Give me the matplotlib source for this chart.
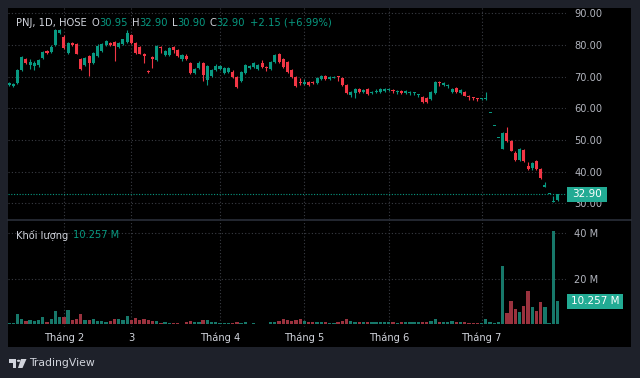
"""
PNJ daily candles with volume, TradingView dark style.
"""

import matplotlib
matplotlib.use("Agg")
import matplotlib.pyplot as plt
import matplotlib.transforms as mtrans
from matplotlib.patches import Rectangle, Circle, Polygon

# ============================================================
# Data
# ============================================================
opens = [67.4, 67.1, 68.0, 72.1, 75.6, 73.7, 73.3, 73.7, 75.8, 78.2,
         77.9, 80.0, 83.8, 82.6, 77.4, 80.6, 80.3, 75.6, 73.7, 76.6,
         74.4, 76.5, 78.0, 80.0, 80.7, 81.0, 79.4, 80.3, 81.0, 83.2,
         80.6, 79.4, 77.0, 71.8, 76.2, 75.3, 79.4, 76.8, 76.8, 79.4,
         78.4, 75.6, 76.5, 74.3, 71.2, 72.7, 74.4, 68.8, 70.3, 72.2,
         72.4, 71.1, 71.6, 71.6, 70.0, 68.7, 71.3, 72.6, 73.0, 72.4,
         74.2, 73.2, 72.4, 74.5, 77.1, 75.5, 74.5, 72.1, 69.9, 68.3,
         67.7, 68.3, 68.2, 68.0, 69.3, 70.2, 69.3, 69.7, 70.0, 69.6,
         67.4, 64.2, 64.9, 66.1, 65.2, 66.1, 64.9, 65.3, 65.2, 65.5,
         65.7, 65.7, 65.3, 65.5, 65.0, 65.0, 64.7, 64.1, 63.6, 63.3,
         63.0, 64.9, 68.3, 67.4, 67.1, 65.2, 66.4, 64.9, 65.2, 63.8,
         63.5, 63.2, 62.9, 63.0, 58.6, 54.5, 50.7, 47.2, 52.2, 49.7,
         46.0, 43.7, 47.0, 41.8, 41.2, 43.4, 40.9, 35.35, 32.9, 30.6,
         30.95]
highs = [68.3, 68.0, 72.5, 76.5, 75.9, 75.5, 74.9, 75.6, 78.2, 78.5,
         80.0, 84.9, 85.0, 83.0, 80.8, 80.8, 80.6, 75.9, 76.2, 76.9,
         77.7, 80.2, 80.6, 81.6, 81.0, 81.3, 81.0, 82.0, 84.7, 83.5,
         81.0, 79.7, 77.5, 72.0, 76.5, 80.0, 79.7, 78.4, 79.4, 79.8,
         78.7, 77.2, 77.0, 74.6, 72.7, 74.9, 74.7, 73.7, 72.4, 74.0,
         73.7, 73.0, 73.0, 72.0, 70.3, 71.9, 74.0, 73.6, 74.5, 74.0,
         75.3, 73.4, 75.0, 77.1, 77.4, 75.8, 74.8, 72.4, 70.2, 69.6,
         69.3, 68.5, 68.5, 69.9, 70.5, 70.5, 70.2, 70.3, 70.2, 69.9,
         67.7, 65.5, 66.4, 66.4, 66.1, 66.4, 65.5, 66.1, 66.4, 66.4,
         66.3, 66.1, 65.8, 65.8, 65.8, 65.5, 65.2, 64.6, 63.9, 63.6,
         65.5, 68.6, 68.5, 68.3, 67.7, 66.4, 66.7, 66.1, 65.5, 64.2,
         63.6, 63.3, 63.3, 65.2, 58.6, 54.5, 50.7, 52.4, 54.1, 49.9,
         46.7, 47.5, 47.2, 43.0, 43.1, 43.6, 41.3, 36.9, 32.9, 32.2,
         32.90]
lows = [67.0, 66.8, 67.7, 71.8, 74.0, 72.5, 72.0, 73.2, 75.5, 77.3,
        77.6, 79.8, 83.5, 78.8, 77.0, 79.8, 77.0, 72.1, 73.3, 70.2,
        74.0, 76.2, 77.7, 79.8, 79.8, 75.0, 79.0, 80.0, 80.7, 80.2,
        77.2, 77.0, 74.3, 71.2, 72.7, 74.8, 77.5, 76.5, 76.4, 77.5,
        76.2, 75.0, 75.2, 70.9, 70.9, 72.4, 68.6, 67.4, 70.0, 71.8,
        72.1, 70.8, 71.3, 69.5, 66.4, 68.4, 71.0, 72.3, 72.7, 72.1,
        72.7, 71.8, 72.1, 74.2, 74.2, 72.8, 71.2, 69.6, 66.8, 67.5,
        67.4, 67.2, 67.6, 67.7, 69.0, 69.0, 68.8, 69.5, 68.6, 67.1,
        64.6, 63.6, 63.3, 65.0, 65.0, 64.2, 64.6, 65.0, 65.0, 65.3,
        65.4, 65.0, 64.6, 64.6, 64.4, 64.2, 64.2, 63.6, 61.8, 61.8,
        62.7, 64.6, 67.1, 67.2, 66.4, 65.0, 65.0, 64.6, 63.8, 62.7,
        62.7, 62.4, 62.7, 62.8, 58.6, 54.5, 50.7, 47.15, 49.5, 46.4,
        43.5, 43.5, 43.2, 40.5, 40.5, 40.6, 37.8, 35.35, 32.9, 30.6,
        30.90]
closes = [68.0, 67.7, 72.1, 76.2, 74.3, 74.7, 74.4, 75.3, 77.8, 77.6,
          79.4, 84.7, 84.7, 79.0, 80.5, 80.0, 77.2, 72.4, 75.9, 74.4,
          77.4, 79.7, 80.3, 81.3, 80.1, 79.7, 80.7, 81.8, 83.7, 80.5,
          77.5, 77.2, 76.6, 71.5, 75.7, 79.7, 78.9, 78.1, 79.0, 78.4,
          76.5, 76.8, 75.5, 71.2, 72.4, 74.3, 70.5, 73.4, 72.1, 73.4,
          73.4, 72.7, 72.7, 69.8, 66.7, 71.6, 73.7, 73.3, 74.2, 73.7,
          73.0, 72.7, 74.7, 76.8, 74.5, 73.1, 71.5, 69.9, 67.1, 68.0,
          68.4, 67.4, 67.9, 69.6, 70.2, 69.3, 69.8, 70.0, 69.8, 67.4,
          64.9, 65.2, 66.1, 65.2, 65.8, 64.5, 65.2, 65.6, 66.1, 66.1,
          65.9, 65.4, 65.6, 64.9, 65.4, 65.2, 64.9, 64.3, 62.0, 62.0,
          65.2, 68.3, 68.0, 68.0, 67.4, 66.1, 65.2, 65.8, 64.0, 63.6,
          63.3, 63.0, 63.0, 63.1, 58.6, 54.5, 50.7, 52.2, 49.7, 46.6,
          43.7, 47.2, 43.4, 40.9, 42.8, 40.9, 38.0, 35.5, 32.9, 30.75,
          32.90]
# volume in millions of shares
volumes = [0.5, 0.6, 4.4, 2.6, 1.5, 1.8, 1.5, 2.0, 3.5, 1.2,
           2.2, 6.1, 3.5, 3.2, 6.3, 1.8, 2.6, 4.8, 1.8, 1.8,
           2.5, 1.5, 1.5, 0.9, 1.5, 2.6, 2.6, 1.8, 3.9, 1.8,
           2.9, 1.8, 2.3, 1.8, 1.6, 1.6, 0.7, 0.9, 0.7, 0.6,
           0.7, 0.4, 1.0, 1.6, 0.9, 0.9, 1.9, 1.8, 1.0, 1.0,
           0.6, 0.6, 0.6, 0.6, 1.3, 0.7, 0.9, 0.4, 0.6, 0.4,
           0.4, 0.4, 1.3, 1.3, 1.5, 2.6, 1.9, 1.6, 1.9, 2.3,
           1.5, 1.3, 1.3, 1.3, 1.2, 1.3, 0.7, 0.7, 1.0, 1.6,
           2.3, 1.5, 1.3, 1.0, 1.0, 0.9, 0.9, 0.9, 1.0, 1.0,
           0.9, 1.0, 0.7, 0.9, 1.0, 1.3, 1.3, 1.3, 1.3, 1.2,
           1.6, 2.6, 1.0, 0.9, 0.9, 1.6, 0.9, 0.9, 0.9, 0.7,
           0.7, 0.7, 0.7, 2.3, 1.3, 0.6, 1.0, 25.6, 5.1, 10.4,
           6.8, 5.6, 8.3, 14.8, 7.5, 6.0, 9.7, 7.6, 0.7, 41.0,
           10.257]

month_pos = [13, 29, 50, 70, 90, 112]
month_labels = ["Tháng 2", "3", "Tháng 4", "Tháng 5", "Tháng 6", "Tháng 7"]
price_ticks = [30, 40, 50, 60, 70, 80, 90]
vol_ticks = [20, 40]

# ============================================================
# Style
# ============================================================
W, H = 640, 378
FRAME = "#1e212a"
UP = "#089981"
DOWN = "#f23645"
VOL_UP = "#17786a"
VOL_DOWN = "#9a323e"
GRID = "#3a3d44"
TXT = "#b2b5be"
TXT_LIGHT = "#d1d4dc"
LABEL_BG = "#22ab94"
FS = 7.1


def fx(px):
    return px / W


def fy(py):
    return 1 - py / H


fig = plt.figure(figsize=(6.4, 3.78), dpi=100, facecolor=FRAME)
fig.patches.append(Rectangle((fx(8), fy(347)), fx(631) - fx(8), fy(8) - fy(347),
                             transform=fig.transFigure, facecolor="black",
                             edgecolor="none", zorder=-5))
# pane separator
fig.add_artist(plt.Line2D([fx(8), fx(631)], [fy(219.5), fy(219.5)],
                          transform=fig.transFigure, color="#2a2e39", lw=1.2, zorder=-1))

ax_p = fig.add_axes([fx(8), fy(219), fx(566) - fx(8), fy(8) - fy(219)])
ax_v = fig.add_axes([fx(8), fy(327), fx(566) - fx(8), fy(220) - fy(327)])

n = len(closes)
idx = list(range(n))
XLIM = (-0.24, 132.0)

for ax in (ax_p, ax_v):
    ax.set_facecolor("none")
    for s in ax.spines.values():
        s.set_visible(False)
    ax.set_xlim(*XLIM)
    ax.yaxis.tick_right()
    ax.tick_params(axis="y", length=0, pad=6, labelcolor=TXT, labelsize=FS)
    for m in month_pos:
        ax.axvline(m, color=GRID, lw=0.8, ls=(0, (1, 2)), zorder=0)

# ---- price pane ----
ax_p.set_ylim(25.1, 91.67)
ax_p.set_yticks(price_ticks)
ax_p.set_yticklabels([f"{v:.2f}" for v in price_ticks])
ax_p.set_xticks([])
for v in price_ticks:
    ax_p.axhline(v, color=GRID, lw=0.8, ls=(0, (1, 2)), zorder=0)

cols = [UP if c >= o else DOWN for o, c in zip(opens, closes)]
body_lo = [min(o, c) for o, c in zip(opens, closes)]
body_h = [max(abs(c - o), 0.32) for o, c in zip(opens, closes)]
ax_p.vlines(idx, lows, highs, colors=cols, lw=0.8, zorder=2)
ax_p.bar(idx, body_h, bottom=body_lo, width=0.72, color=cols, lw=0, zorder=3)

last = closes[-1]
ax_p.axhline(last, color=UP, lw=0.8, ls=(0, (1, 1.5)), zorder=1)
tr_p = mtrans.blended_transform_factory(ax_p.transAxes, ax_p.transData)
x0 = (567 - 8) / 558
x1 = (607 - 8) / 558
hh = 15 / 3.17
ax_p.add_patch(Rectangle((x0, last - hh / 2), x1 - x0, hh, transform=tr_p,
                         facecolor=LABEL_BG, edgecolor="none", clip_on=False, zorder=5))
ax_p.text((x0 + x1) / 2, last, f"{last:.2f}", transform=tr_p, color="white",
          fontsize=FS + 0.4, ha="center", va="center", clip_on=False, zorder=6)

# ---- volume pane ----
ax_v.set_ylim(-1.1, 45.8)
ax_v.set_yticks(vol_ticks)
ax_v.set_yticklabels([f"{v} M" for v in vol_ticks])
for v in vol_ticks:
    ax_v.axhline(v, color=GRID, lw=0.8, ls=(0, (1, 2)), zorder=0)
vcols = [VOL_UP if c >= o else VOL_DOWN for o, c in zip(opens, closes)]
ax_v.bar(idx, volumes, width=0.78, color=vcols, lw=0, zorder=2)
ax_v.set_xticks(month_pos)
ax_v.set_xticklabels(month_labels)
ax_v.tick_params(axis="x", length=0, pad=4, labelcolor=TXT_LIGHT, labelsize=FS)

lv = volumes[-1]
tr_v = mtrans.blended_transform_factory(ax_v.transAxes, ax_v.transData)
vx1 = (623 - 8) / 558
vh = 15 / 2.28
ax_v.add_patch(Rectangle((x0, lv - vh / 2), vx1 - x0, vh, transform=tr_v,
                         facecolor=LABEL_BG, edgecolor="none", clip_on=False, zorder=5))
ax_v.text((x0 + vx1) / 2, lv, f"{lv:.3f} M", transform=tr_v, color="white",
          fontsize=FS + 0.4, ha="center", va="center", clip_on=False, zorder=6)


# ---- legends (text runs) ----
def text_run(x_px, y_px, pieces, size):
    r = fig.canvas.get_renderer()
    x = x_px
    for s, col, gap in pieces:
        t = fig.text(fx(x), fy(y_px), s, color=col, fontsize=size, ha="left", va="center")
        x += t.get_window_extent(renderer=r).width + gap


chg = closes[-1] - closes[-2]
pct = chg / closes[-2] * 100
text_run(16, 22.5, [
    ("PNJ, 1D, HOSE", TXT_LIGHT, 5),
    ("O", TXT_LIGHT, 0), (f"{opens[-1]:.2f}", UP, 4),
    ("H", TXT_LIGHT, 0), (f"{highs[-1]:.2f}", UP, 4),
    ("L", TXT_LIGHT, 0), (f"{lows[-1]:.2f}", UP, 4),
    ("C", TXT_LIGHT, 0), (f"{closes[-1]:.2f}", UP, 5),
    (f"+{chg:.2f} (+{pct:.2f}%)", UP, 0),
], FS + 0.1)
text_run(16, 235, [("Khối lượng", TXT_LIGHT, 5), (f"{lv:.3f} M", UP, 0)], FS)

# ---- TradingView logo ----
logo = [
    Rectangle((fx(8.5), fy(362.5)), fx(7.5), fy(0) - fy(3.5)),
    Rectangle((fx(12.5), fy(368)), fx(3.5), fy(0) - fy(9)),
    Circle((fx(18.6), fy(360.8)), 1.8 / W),
    Polygon([(fx(21), fy(359)), (fx(26.5), fy(359)), (fx(22.5), fy(368)), (fx(18), fy(368))]),
]
for p in logo:
    p.set_transform(fig.transFigure)
    p.set_facecolor(TXT_LIGHT)
    p.set_edgecolor("none")
    fig.add_artist(p)
fig.text(fx(29), fy(363), "TradingView", color=TXT_LIGHT, fontsize=7.8, ha="left", va="center")

fig.savefig("out.png", dpi=100, facecolor=FRAME)
